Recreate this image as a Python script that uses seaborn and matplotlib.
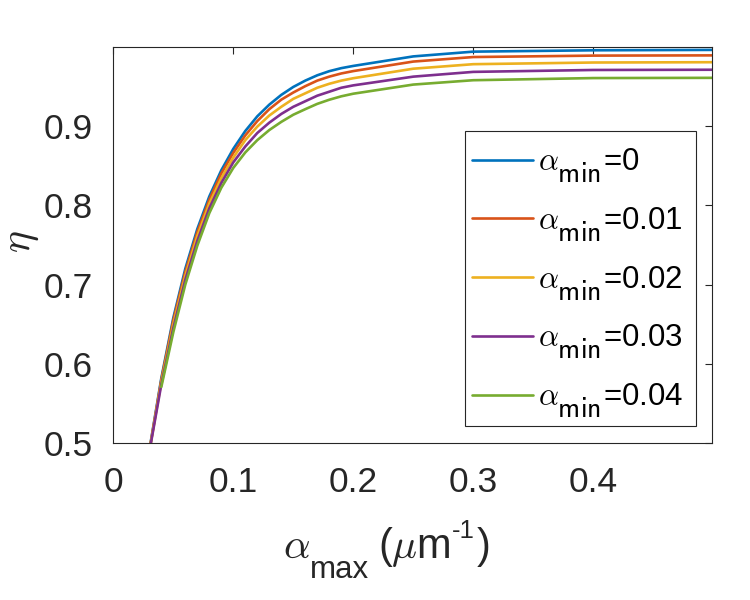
import numpy as np
import pandas as pd
import matplotlib
matplotlib.use("Agg")
import matplotlib.pyplot as plt
from matplotlib.patches import Rectangle
import seaborn as sns

# MATLAB-like TeX subscripts: barely shrunk and dropped well below the baseline
try:
    import matplotlib._mathtext as _mt
    _mt.SHRINK_FACTOR = 0.89
    for _name in dir(_mt):
        _obj = getattr(_mt, _name)
        if isinstance(_obj, type) and issubclass(_obj, _mt.FontConstantsBase):
            _obj.sub1 = 0.48
except Exception:
    pass

# ---- data ----
alpha_max = [0.03, 0.04, 0.05, 0.06, 0.07, 0.08, 0.09, 0.10, 0.11, 0.12, 0.13,
             0.14, 0.15, 0.16, 0.17, 0.18, 0.19, 0.20, 0.25, 0.30, 0.40, 0.50]

eta_amin_0 = [0.491, 0.582, 0.658, 0.720, 0.770, 0.811, 0.844, 0.871, 0.8935, 0.912, 0.9267,
              0.939, 0.949, 0.957, 0.9637, 0.9689, 0.9727, 0.9755, 0.9875, 0.9935, 0.9952, 0.9957]
eta_amin_001 = [0.490, 0.580, 0.655, 0.716, 0.766, 0.807, 0.840, 0.866, 0.888, 0.906, 0.921,
                0.933, 0.942, 0.950, 0.957, 0.962, 0.966, 0.969, 0.981, 0.9867, 0.9885, 0.9888]
eta_amin_002 = [0.490, 0.577, 0.650, 0.711, 0.761, 0.802, 0.834, 0.860, 0.882, 0.899, 0.913,
                0.924, 0.934, 0.941, 0.948, 0.953, 0.957, 0.960, 0.972, 0.9777, 0.9798, 0.9802]
eta_amin_003 = [0.489, 0.574, 0.645, 0.706, 0.755, 0.796, 0.828, 0.854, 0.874, 0.891, 0.904,
                0.915, 0.924, 0.931, 0.938, 0.943, 0.948, 0.951, 0.962, 0.968, 0.9704, 0.9707]
eta_amin_004 = [np.nan, 0.571, 0.640, 0.700, 0.749, 0.790, 0.822, 0.847, 0.8665, 0.882, 0.8947,
                0.905, 0.914, 0.921, 0.9277, 0.9329, 0.9372, 0.9405, 0.952, 0.9575, 0.9602, 0.9605]

series_labels = [r"$\alpha_{\mathsf{min}}$=0", r"$\alpha_{\mathsf{min}}$=0.01",
                 r"$\alpha_{\mathsf{min}}$=0.02", r"$\alpha_{\mathsf{min}}$=0.03",
                 r"$\alpha_{\mathsf{min}}$=0.04"]
series_colors = ["#0072BD", "#D95319", "#EDB120", "#7E2F8E", "#77AC30"]

x_ticks = [0, 0.1, 0.2, 0.3, 0.4]
x_tick_labels = ["0", "0.1", "0.2", "0.3", "0.4"]
y_ticks = [0.5, 0.6, 0.7, 0.8, 0.9]
y_tick_labels = ["0.5", "0.6", "0.7", "0.8", "0.9"]

# ---- long-form table ----
all_series = [eta_amin_0, eta_amin_001, eta_amin_002, eta_amin_003, eta_amin_004]
frames = []
for lab, vals in zip(series_labels, all_series):
    frames.append(pd.DataFrame({"alpha_max": alpha_max, "eta": vals, "series": lab}))
df = pd.concat(frames, ignore_index=True)

# ---- style ----
sns.set_style("white")
ink = "#262626"
plt.rcParams["font.family"] = ["Liberation Sans", "DejaVu Sans"]
plt.rcParams["mathtext.fontset"] = "cm"
plt.rcParams["axes.edgecolor"] = ink
plt.rcParams["axes.linewidth"] = 0.8
plt.rcParams["xtick.color"] = ink
plt.rcParams["ytick.color"] = ink
plt.rcParams["text.color"] = ink

fig = plt.figure(figsize=(7.5, 6), dpi=100)
ax = fig.add_axes([0.1511, 0.2612, 0.7982, 0.66])

sns.lineplot(data=df, x="alpha_max", y="eta", hue="series", hue_order=series_labels,
             palette=series_colors, linewidth=1.9, ax=ax, legend=False, sort=False,
             estimator=None)

ax.set_xlim(0, 0.499)
ax.set_ylim(0.5, 0.999)
ax.set_xticks(x_ticks)
ax.set_xticklabels(x_tick_labels)
ax.set_yticks(y_ticks)
ax.set_yticklabels(y_tick_labels)
ax.tick_params(axis="both", which="both", direction="in", length=4.8, width=0.8,
               top=True, right=True, labelsize=25.5, colors=ink)
ax.tick_params(axis="x", pad=16)
ax.tick_params(axis="y", pad=15)
for sp in ax.spines.values():
    sp.set_visible(True)
    sp.set_color(ink)
    sp.set_linewidth(0.8)
ax.set_xlabel("")

# y label (rotated eta)
ax.set_ylabel(r"$\eta$", fontsize=30, color=ink)
ax.yaxis.set_label_coords(-0.121, 0.508)

# x label: alpha_max (um^-1), built from text pieces (baselines in figure pixels)
base = 42
p1 = fig.text(283 / 750, base / 600, r"$\alpha$", fontsize=30,
              ha="left", va="baseline", color=ink)
p2 = ax.annotate("max", xy=(1, base - 20), xycoords=(p1, "figure pixels"),
                 xytext=(0, 0), textcoords="offset pixels", fontsize=22.5,
                 ha="left", va="baseline", color=ink, annotation_clip=False)
p3 = ax.annotate(r"($\mu$m", xy=(1, base), xycoords=(p2, "figure pixels"),
                 xytext=(9, 0), textcoords="offset pixels", fontsize=30,
                 ha="left", va="baseline", color=ink, annotation_clip=False)
p4 = ax.annotate("-1", xy=(1, base + 19.7), xycoords=(p3, "figure pixels"),
                 xytext=(1, 0), textcoords="offset pixels", fontsize=18.5,
                 ha="left", va="baseline", color=ink, annotation_clip=False)
p5 = ax.annotate(")", xy=(1, base), xycoords=(p4, "figure pixels"),
                 xytext=(2, 0), textcoords="offset pixels", fontsize=30,
                 ha="left", va="baseline", color=ink, annotation_clip=False)

# legend: frame drawn as a box, entries placed inside it
box = Rectangle((0.587, 0.044), 0.386, 0.745, transform=ax.transAxes,
                facecolor="white", edgecolor=ink, linewidth=0.8, zorder=4)
ax.add_patch(box)
handles = ax.get_lines()[:5]
leg = ax.legend(handles, series_labels, loc="upper left", bbox_to_anchor=(0.5986, 0.7495),
                borderaxespad=0, fontsize=22.5, frameon=False,
                handlelength=1.95, handletextpad=0.17,
                borderpad=0.0, labelspacing=0.64)
leg.set_zorder(5)
for t in leg.get_texts():
    t.set_color("black")

fig.savefig("out.png", dpi=100)
